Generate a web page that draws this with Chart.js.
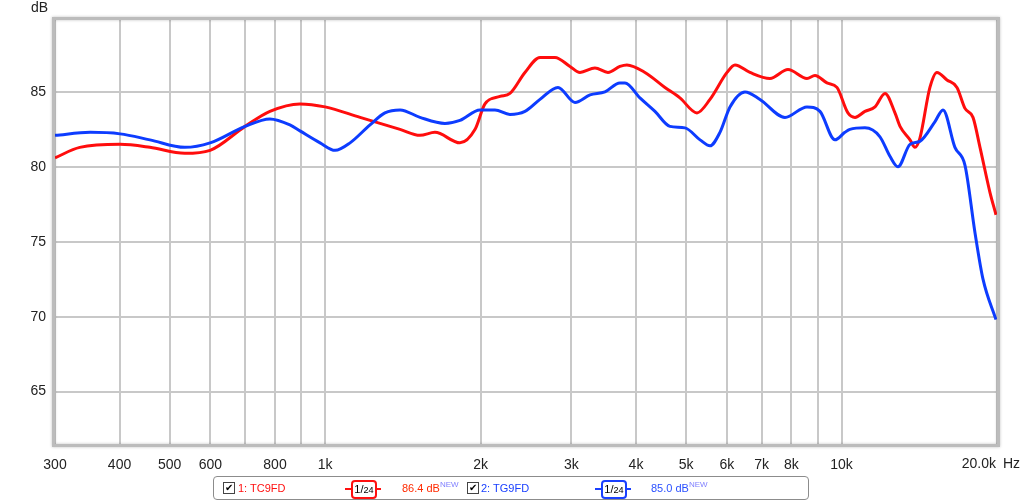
<!DOCTYPE html>
<html lang="en">
<head>
  <meta charset="UTF-8" />
  <title>Frequency Response</title>
  <script src="https://cdn.jsdelivr.net/npm/chart.js"></script>
  <style>
    body { margin: 0; background: #fff; font-family: 'Liberation Sans', Arial, sans-serif; }
    #wrap { position: relative; width: 1024px; height: 504px; }
    #legend {
      position: absolute; left: 213px; top: 476px; width: 596px; height: 24px;
      border: 1px solid #8c8c8c; border-radius: 4px; box-sizing: border-box; font-size: 11px;
    }
    #legend .it { position: absolute; top: 5px; line-height: 13px; white-space: nowrap; }
    .cb {
      position: absolute; top: 5px; width: 10px; height: 10px; border: 1px solid #444;
      font-size: 10px; line-height: 10px; text-align: center; color: #000;
    }
    .oct { position: absolute; top: 2px; height: 20px; }
    .oct .ln { position: absolute; left: 0; right: 0; top: 9px; height: 2px; }
    .oct .bx {
      position: absolute; left: 6px; top: 1px; width: 22px; height: 15px; background: #fff;
      border: 2px solid; border-radius: 4px; font-size: 11px; line-height: 15px; text-align: center; color: #000;
    }
    sup { font-size: 8px; vertical-align: baseline; position: relative; top: -5px; line-height: 0; }
  </style>
</head>
<body>
  <div id="wrap">
    <canvas id="frChart"></canvas>
    <div id="legend">
      <span class="cb" style="left:9px">&#10004;</span>
      <span class="it" style="left:24px;color:#ff1010">1: TC9FD</span>
      <span class="oct" style="left:131px;width:36px"><span class="ln" style="background:#ff1010"></span><span class="bx" style="border-color:#ff1010">1/<small>24</small></span></span>
      <span class="it" style="left:188px;color:#ff2a00">86.4 dB<sup style="color:#8080ff">NEW</sup></span>
      <span class="cb" style="left:253px">&#10004;</span>
      <span class="it" style="left:267px;color:#1a40ff">2: TG9FD</span>
      <span class="oct" style="left:381px;width:36px"><span class="ln" style="background:#1a40ff"></span><span class="bx" style="border-color:#1a40ff">1/<small>24</small></span></span>
      <span class="it" style="left:437px;color:#2a50ff">85.0 dB<sup style="color:#8080ff">NEW</sup></span>
    </div>
  </div>

  <script>
    // (Hz / dB)
    const redFreq = [300, 335, 401, 458, 535, 599, 700, 782, 894, 1000, 1169, 1397, 1527, 1632, 1825, 1952, 2040,
      2181, 2280, 2438, 2607, 2787, 2980, 3116, 3331, 3530, 3723, 3841, 4163, 4551, 4865, 5250, 5563, 6002, 6219,
      6648, 7268, 7877, 8573, 8884, 9371, 9797, 10290, 10620, 11100, 11610, 12140, 12690, 12980, 13570, 13870,
      14180, 14830, 15300, 16000, 16730, 17340, 17970, 18540, 19380, 19910];
    const redDb = [80.6, 81.3, 81.5, 81.3, 80.9, 81.1, 82.7, 83.7, 84.2, 84.0, 83.3, 82.5, 82.1, 82.3, 81.6, 82.5, 84.2,
      84.7, 84.9, 86.3, 87.3, 87.3, 86.7, 86.3, 86.6, 86.3, 86.7, 86.8, 86.3, 85.3, 84.6, 83.6, 84.5, 86.3, 86.8,
      86.3, 85.9, 86.5, 85.9, 86.1, 85.6, 85.3, 83.6, 83.3, 83.7, 84.0, 84.9, 83.6, 82.7, 81.8, 81.3,
      81.9, 85.3, 86.3, 85.8, 85.3, 83.9, 83.3, 81.3, 78.3, 76.8];

    const blueFreq = [300, 351, 401, 458, 535, 599, 700, 782, 855, 894, 978, 1046, 1118, 1222, 1306, 1397, 1527, 1707,
      1825, 1995, 2133, 2280, 2438, 2607, 2825, 3047, 3259, 3483, 3723, 3808, 4071, 4353, 4653, 4975, 5322, 5563,
      5816, 6082, 6502, 6951, 7772, 8573, 9083, 9711, 10150, 10380, 11100, 11870, 12410, 12860, 13570, 14180,
      15160, 15720, 16580, 17340, 18130, 18790, 19910];
    const blueDb = [82.1, 82.3, 82.2, 81.8, 81.3, 81.6, 82.7, 83.2, 82.8, 82.4, 81.6, 81.1, 81.6, 82.8, 83.6, 83.8, 83.3, 82.9,
      83.1, 83.8, 83.8, 83.5, 83.7, 84.5, 85.3, 84.3, 84.8, 85.0, 85.6, 85.6, 84.6, 83.7, 82.7, 82.6, 81.8, 81.4,
      82.3, 84.0, 85.0, 84.5, 83.3, 84.0, 83.7, 81.8, 82.3, 82.5, 82.6, 82.0, 80.7, 80.0, 81.5, 81.7,
      83.0, 83.8, 81.3, 80.1, 75.6, 72.5, 69.8];

    const xTicks = [300, 400, 500, 600, 700, 800, 900, 1000, 2000, 3000, 4000, 5000, 6000, 7000, 8000, 9000, 10000, 20000];
    const xTickLabels = ['300', '400', '500', '600', '', '800', '', '1k', '2k', '3k', '4k', '5k', '6k', '7k', '8k', '', '10k', ''];
    const yTicks = [65, 70, 75, 80, 85];

    const pts = (fs, ds) => fs.map((f, i) => ({ x: f, y: ds[i] }));

    // frame + axis captions
    const framePlugin = {
      id: 'frame',
      afterDraw(chart) {
        const { ctx, chartArea: a } = chart;
        ctx.save();
        ctx.shadowColor = 'rgba(0,0,0,0.25)';
        ctx.shadowBlur = 3;
        ctx.strokeStyle = '#bcbcbc';
        ctx.lineWidth = 3;
        ctx.strokeRect(a.left - 1.5, a.top - 1.5, a.right - a.left + 3, a.bottom - a.top + 3);
        ctx.restore();

        ctx.save();
        ctx.fillStyle = '#222';
        ctx.font = '14px "Liberation Sans", Arial, sans-serif';
        ctx.textBaseline = 'middle';
        ctx.textAlign = 'left';
        ctx.fillText('dB', 31, 8);
        const xs = chart.scales.x;
        const px = xs.getPixelForValue(20000);
        ctx.textAlign = 'right';
        ctx.fillText('20.0k', px - 1, 464);
        ctx.textAlign = 'left';
        ctx.fillText('Hz', px + 6, 464);
        ctx.restore();
      }
    };

    new Chart(document.getElementById('frChart').getContext('2d'), {
      type: 'line',
      data: {
        datasets: [
          {
            label: '1: TC9FD',
            data: pts(redFreq, redDb),
            borderColor: '#ff0d0d',
            borderWidth: 3,
            pointRadius: 0,
            cubicInterpolationMode: 'monotone',
            order: 1
          },
          {
            label: '2: TG9FD',
            data: pts(blueFreq, blueDb),
            borderColor: '#0d3cff',
            borderWidth: 3,
            pointRadius: 0,
            cubicInterpolationMode: 'monotone',
            order: 0
          }
        ]
      },
      options: {
        responsive: true,
        maintainAspectRatio: false,
        animation: false,
        layout: { padding: { top: 20, right: 27, bottom: 0, left: 0 } },
        plugins: { legend: { display: false }, tooltip: { enabled: false } },
        scales: {
          x: {
            type: 'logarithmic',
            min: 300,
            max: 20000,
            afterBuildTicks: s => { s.ticks = xTicks.map(v => ({ value: v })); },
            afterFit: s => { s.height = 60; },
            grid: { color: '#c8c8c8', lineWidth: 2, drawTicks: false },
            border: { display: false },
            ticks: {
              autoSkip: false,
              maxRotation: 0,
              padding: 13,
              color: '#222',
              font: { family: '"Liberation Sans", Arial, sans-serif', size: 14 },
              callback: (v, i) => xTickLabels[i]
            }
          },
          y: {
            min: 61.5,
            max: 89.8,
            afterBuildTicks: s => { s.ticks = yTicks.map(v => ({ value: v })); },
            afterFit: s => { s.width = 55; },
            grid: { color: '#c8c8c8', lineWidth: 2, drawTicks: false },
            border: { display: false },
            ticks: {
              padding: 9,
              color: '#222',
              font: { family: '"Liberation Sans", Arial, sans-serif', size: 14 }
            }
          }
        }
      },
      plugins: [framePlugin]
    });
  </script>
</body>
</html>
